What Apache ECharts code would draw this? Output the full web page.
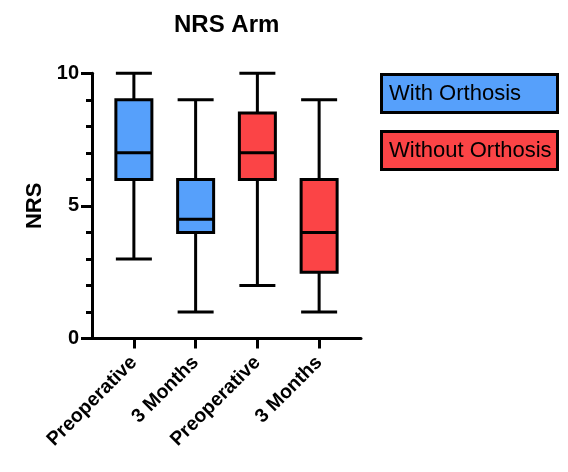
<!DOCTYPE html>
<html>
<head>
<meta charset="utf-8">
<script src="https://cdn.jsdelivr.net/npm/echarts@6/dist/echarts.min.js"></script>
<style>
html,body{margin:0;padding:0;background:#fff;}
#chart{width:568px;height:472px;}
</style>
</head>
<body>
<div id="chart"></div>
<script>
var categories = ['Preoperative', '3 Months', 'Preoperative', '3 Months'];
// [min, Q1, median, Q3, max]
var withOrthosis = [[3, 6, 7, 9, 10], [1, 4, 4.5, 6, 9], ['-','-','-','-','-'], ['-','-','-','-','-']];
var withoutOrthosis = [['-','-','-','-','-'], ['-','-','-','-','-'], [2, 6, 7, 8.5, 10], [1, 2.5, 4, 6, 9]];
var seriesNames = ['With Orthosis', 'Without Orthosis'];
var yTicks = [0, 5, 10];

var FONT = "'Liberation Sans', Arial, Helvetica, sans-serif";
var BLUE = '#56a0fb';
var RED = '#fb4446';

var chart = echarts.init(document.getElementById('chart'), null, {renderer: 'canvas'});
var option = {
  animation: false,
  backgroundColor: '#fff',
  title: {
    text: 'NRS Arm',
    left: 174, top: 13, padding: 0,
    textStyle: {fontFamily: FONT, fontWeight: 'bold', fontSize: 24, color: '#000'}
  },
  legend: {
    orient: 'vertical', left: 377, top: 73, padding: 0, itemGap: 16,
    itemWidth: 0, itemHeight: 0, icon: 'rect', selectedMode: false,
    data: [
      {name: seriesNames[0], textStyle: {backgroundColor: BLUE}},
      {name: seriesNames[1], textStyle: {backgroundColor: RED}}
    ],
    textStyle: {
      fontFamily: FONT, fontSize: 22, color: '#000', lineHeight: 22,
      borderColor: '#000', borderWidth: 3, padding: [6.5, 6], width: 161
    }
  },
  grid: [
    {left: 103, right: 218, top: 73.3, bottom: 133.5},
    {left: 92, right: 207, top: 73.3, bottom: 133.5}
  ],
  xAxis: [
    {
      gridIndex: 0, type: 'category', data: categories,
      axisLine: {show: false},
      axisTick: {show: true, alignWithLabel: true, length: 10, lineStyle: {color: '#000', width: 3}},
      axisLabel: {rotate: 45, margin: 21, color: '#000', fontFamily: FONT, fontWeight: 'bold', fontSize: 19.5, interval: 0},
      splitLine: {show: false}
    },
    {gridIndex: 0, type: 'category', data: categories, show: false},
    {
      gridIndex: 1, type: 'value', min: 0, max: 1,
      axisLine: {show: true, lineStyle: {color: '#000', width: 3}},
      axisTick: {show: false}, axisLabel: {show: false}, splitLine: {show: false}
    }
  ],
  yAxis: [
    {
      gridIndex: 0, type: 'value', min: yTicks[0], max: yTicks[yTicks.length - 1], interval: 5,
      offset: 11,
      name: 'NRS', nameLocation: 'middle', nameGap: 46, nameRotate: 90,
      nameTextStyle: {fontFamily: FONT, fontWeight: 'bold', fontSize: 22, color: '#000'},
      axisLine: {show: true, lineStyle: {color: '#000', width: 3}},
      axisTick: {show: true, length: 11, lineStyle: {color: '#000', width: 3}},
      minorTick: {show: true, splitNumber: 5, length: 6, lineStyle: {color: '#000', width: 3}},
      axisLabel: {margin: 13, color: '#000', fontFamily: FONT, fontWeight: 'bold', fontSize: 20},
      splitLine: {show: false}
    },
    {gridIndex: 1, type: 'value', min: 0, max: 10, show: false}
  ],
  series: [
    {
      name: seriesNames[0], type: 'boxplot', xAxisIndex: 0, yAxisIndex: 0,
      boxWidth: [36, 36], data: withOrthosis,
      itemStyle: {color: BLUE, borderColor: '#000', borderWidth: 3},
      emphasis: {disabled: true}
    },
    {
      name: seriesNames[1], type: 'boxplot', xAxisIndex: 1, yAxisIndex: 0,
      boxWidth: [36, 36], data: withoutOrthosis,
      itemStyle: {color: RED, borderColor: '#000', borderWidth: 3},
      emphasis: {disabled: true}
    }
  ]
};
chart.setOption(option);
</script>
</body>
</html>
